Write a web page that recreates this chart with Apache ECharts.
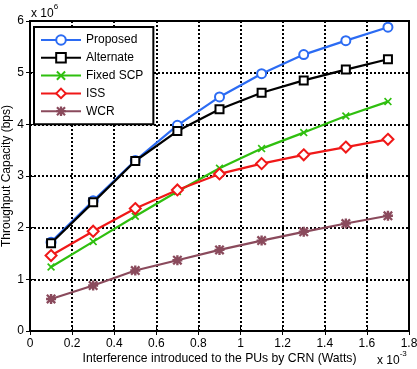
<!DOCTYPE html>
<html>
<head>
<meta charset="UTF-8">
<title>Throughput Capacity</title>
<script src="https://cdn.jsdelivr.net/npm/echarts@6.0.0/dist/echarts.min.js"></script>
<style>
  html, body { margin: 0; padding: 0; background: #fff; }
  #main { width: 417px; height: 369px; }
</style>
</head>
<body>
<div id="main"></div>
<script type="text/javascript">
// interference (x 10^-3 Watts)
var xVals = [0.1, 0.3, 0.5, 0.7, 0.9, 1.1, 1.3, 1.5, 1.7];
// throughput (x 10^6 bps)
var proposed  = [1.72, 2.52, 3.30, 3.98, 4.53, 4.98, 5.35, 5.62, 5.88];
var alternate = [1.70, 2.49, 3.29, 3.87, 4.29, 4.61, 4.85, 5.06, 5.26];
var fixedScp  = [1.24, 1.73, 2.22, 2.70, 3.15, 3.53, 3.84, 4.16, 4.44];
var iss       = [1.46, 1.93, 2.37, 2.73, 3.04, 3.24, 3.41, 3.56, 3.71];
var wcr       = [0.62, 0.88, 1.17, 1.37, 1.57, 1.75, 1.92, 2.08, 2.23];
var seriesNames = ['Proposed', 'Alternate', 'Fixed SCP', 'ISS', 'WCR'];

var font = 'Liberation Sans, Arial, sans-serif';
// x marker and asterisk marker, drawn as filled paths
var crossPath = 'path://M0,1.5 L1.5,0 L5,3.5 L8.5,0 L10,1.5 L6.5,5 L10,8.5 L8.5,10 L5,6.5 L1.5,10 L0,8.5 L3.5,5 Z';
var starPath = 'path://M3.8,0 L6.2,0 L6.2,10 L3.8,10 Z M0,3.8 L10,3.8 L10,6.2 L0,6.2 Z M0,1.6 L1.6,0 L10,8.4 L8.4,10 Z M8.4,0 L10,1.6 L1.6,10 L0,8.4 Z';

function pairs(ys) {
  var out = [];
  for (var i = 0; i < xVals.length; i++) out.push([xVals[i], ys[i]]);
  return out;
}

function mkSeries(name, ys, color, symbol, size, bw) {
  return {
    name: name,
    type: 'line',
    data: pairs(ys),
    symbol: symbol,
    symbolSize: size,
    showAllSymbol: true,
    lineStyle: { color: color, width: 2.2 },
    itemStyle: { color: color, borderColor: color, borderWidth: bw }
  };
}

var myChart = echarts.init(document.getElementById('main'));

var gridLine = { show: true, lineStyle: { color: '#000', type: [2, 2], width: 2 } };
var tick = { show: true, inside: true, length: 4, lineStyle: { color: '#000', width: 1 } };

var option = {
  animation: false,
  backgroundColor: '#fff',
  grid: {
    left: 30, right: 8, top: 21, bottom: 38,
    outerBoundsMode: 'none', containLabel: false,
    show: true, borderColor: '#000', borderWidth: 2, backgroundColor: '#fff'
  },
  legend: {
    orient: 'vertical',
    left: 34, top: 27,
    data: seriesNames,
    itemWidth: 40, itemHeight: 12, itemGap: 5.8,
    padding: [7, 10, 7, 6],
    borderColor: '#000', borderWidth: 2,
    backgroundColor: '#fff',
    textStyle: { fontFamily: font, fontSize: 12, color: '#000' }
  },
  xAxis: [{
    type: 'value', min: 0, max: 1.8, interval: 0.2,
    axisLine: { show: true, lineStyle: { color: '#000', width: 2 } },
    axisTick: tick,
    splitLine: gridLine,
    axisLabel: { color: '#000', fontFamily: font, fontSize: 12, margin: 7,
      formatter: function (v) { return +v.toFixed(1) + ''; } },
    name: 'Interference introduced to the PUs by CRN (Watts)',
    nameLocation: 'middle', nameGap: 22, nameMoveOverlap: false,
    nameTextStyle: { color: '#000', fontFamily: font, fontSize: 12.2 }
  }, {
    type: 'value', min: 0, max: 1.8, interval: 0.2, position: 'top',
    axisLine: { show: false }, axisTick: tick, axisLabel: { show: false }, splitLine: { show: false }
  }],
  yAxis: [{
    type: 'value', min: 0, max: 6, interval: 1,
    axisLine: { show: true, lineStyle: { color: '#000', width: 2 } },
    axisTick: tick,
    splitLine: gridLine,
    axisLabel: { color: '#000', fontFamily: font, fontSize: 12, margin: 6 },
    name: 'Throughput Capacity (bps)',
    nameLocation: 'middle', nameGap: 17, nameMoveOverlap: false,
    nameTextStyle: { color: '#000', fontFamily: font, fontSize: 12 }
  }, {
    type: 'value', min: 0, max: 6, interval: 1, position: 'right',
    axisLine: { show: false }, axisTick: tick, axisLabel: { show: false }, splitLine: { show: false }
  }],
  graphic: [{
    type: 'text', left: 31, top: 3,
    style: { text: '{b|x 10}{s|6}', fill: '#000',
      rich: { b: { fontFamily: font, fontSize: 12, padding: [5, 0, 0, 0] }, s: { fontFamily: font, fontSize: 8, verticalAlign: 'top' } } }
  }, {
    type: 'text', left: 377, top: 350,
    style: { text: '{b|x 10}{s|-3}', fill: '#000',
      rich: { b: { fontFamily: font, fontSize: 12, padding: [5, 0, 0, 0] }, s: { fontFamily: font, fontSize: 8, verticalAlign: 'top' } } }
  }],
  series: [
    mkSeries('Proposed', proposed, '#2b6bf3', 'emptyCircle', 9, 2),
    mkSeries('Alternate', alternate, '#000000', 'emptyRect', 8, 2),
    mkSeries('Fixed SCP', fixedScp, '#2fbf0f', crossPath, 8, 0),
    mkSeries('ISS', iss, '#f01818', 'emptyDiamond', 11, 2),
    mkSeries('WCR', wcr, '#8a4a5c', starPath, 10, 0)
  ]
};

myChart.setOption(option);
</script>
</body>
</html>
